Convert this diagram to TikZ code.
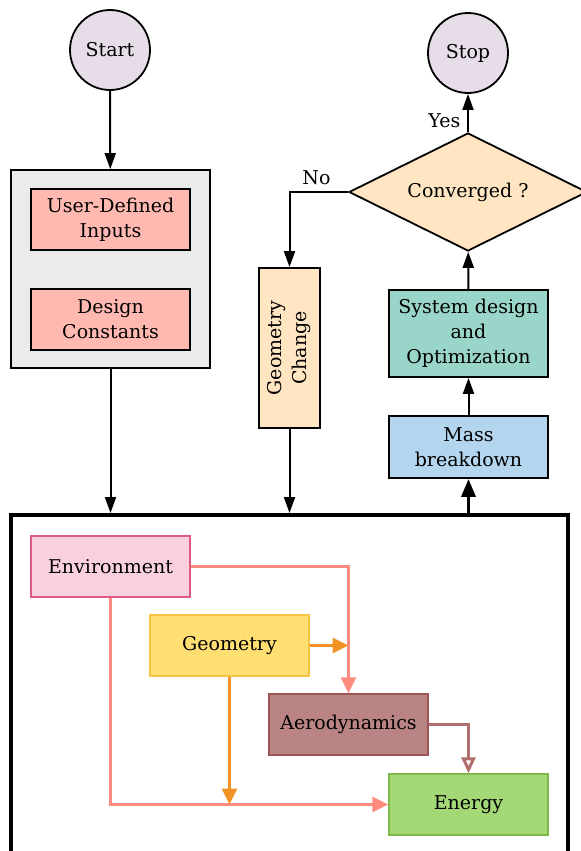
\documentclass[tikz,border=0pt]{standalone}
\usepackage{fontspec}
\setmainfont{DejaVu Serif}
\usetikzlibrary{shapes.geometric}
\usetikzlibrary{arrows.meta}
\usetikzlibrary{positioning}

\definecolor{lilac}{HTML}{E7DDE9}
\definecolor{panel}{HTML}{EBEBEB}
\definecolor{peach}{HTML}{FFB9B0}
\definecolor{cream}{HTML}{FFE5C2}
\definecolor{teal}{HTML}{9AD5CA}
\definecolor{sky}{HTML}{B3D5EE}
\definecolor{envfill}{HTML}{F9D1DD}
\definecolor{envline}{HTML}{DD5A85}
\definecolor{geofill}{HTML}{FFDF72}
\definecolor{geoline}{HTML}{F8C444}
\definecolor{aerofill}{HTML}{B98483}
\definecolor{aeroline}{HTML}{9E5558}
\definecolor{enfill}{HTML}{A4D877}
\definecolor{enline}{HTML}{7CB84A}
\definecolor{salmon}{HTML}{FF8C7F}
\definecolor{orange}{HTML}{F29325}
\definecolor{aerolink}{HTML}{B06E6E}

\tikzset{
  term/.style={circle, draw, fill=lilac, line width=0.9pt, minimum size=40pt, inner sep=0pt},
  block/.style={rectangle, draw, line width=0.9pt, align=center, minimum width=79.5pt, inner sep=1pt},
  module/.style={block, minimum height=30.5pt, line width=0.7pt},
  flow/.style={line width=1pt, -{Triangle[length=8pt,width=5.5pt]}},
  link/.style={line width=1.5pt, -{Triangle[length=8pt,width=7.5pt]}}
}

\begin{document}
\begin{tikzpicture}[x=0.5pt, y=-0.5pt, font=\fontsize{9.5}{12.5}\selectfont]
        \clip (0,0) rectangle (581,851);
        % left column
        \node [term] (start) at (110,50) {Start};
        \node [block, fill=panel, minimum width=99.5pt, minimum height=99pt] (inbox) at (110.5,269) {};
        \node [block, fill=peach, minimum height=30.5pt] (udi) at (110.5,219.5) {User-Defined\\Inputs};
        \node [block, fill=peach, minimum height=30.5pt] (dc) at (110.5,319.5) {Design\\Constants};
        % right column
        \node [term] (stop) at (468,53) {Stop};
        \node [diamond, aspect=2, draw, fill=cream, line width=0.9pt, minimum width=119pt, minimum height=59pt, inner sep=0pt] (conv) at (468,192) {Converged ?};
        \node [block, fill=cream, rotate=90, minimum width=80pt, minimum height=30.5pt] (gchange) at (289.5,348) {Geometry\\Change};
        \node [block, fill=teal, minimum height=43.5pt] (sysopt) at (468.5,333.5) {System design\\and\\Optimization};
        \node [block, fill=sky, minimum height=31pt] (mass) at (468.5,447) {Mass\\breakdown};
        % analysis core
        \node [draw, line width=2pt, minimum width=278.5pt, minimum height=192.5pt] (core) at (289.5,707.5) {};
        \node [module, fill=envfill, draw=envline] (env) at (110.5,566.5) {Environment};
        \node [module, fill=geofill, draw=geoline] (geom) at (229.5,645.5) {Geometry};
        \node [module, fill=aerofill, draw=aeroline] (aero) at (348.5,724.5) {Aerodynamics};
        \node [module, fill=enfill, draw=enline] (energy) at (468.5,804.5) {Energy};

        \draw [flow] (start) -- (inbox);
        \draw [flow] (inbox) -- (inbox |- core.north);
        \draw [flow] (conv) -- node[pos=0.3, left] {Yes} (stop);
        \draw [flow] (conv.west) -| node[pos=0.27, above] {No} (gchange.east);
        \draw [flow] (gchange.west) -- (gchange.west |- core.north);
        \draw [flow] (sysopt) -- (conv);
        \draw [flow] (mass) -- (sysopt);
        \draw [line width=1.7pt, -{Triangle[length=9pt,width=7pt]}] (mass |- core.north) -- (mass);

        \draw [link, salmon] (env.east) -| (aero.north);
        \draw [link, salmon] (env.south) |- (energy.west);
        \draw [link, orange] (geom.east) -- (geom.east -| aero.north);
        \draw [link, orange] (geom.south) -- (geom.south |- energy.west);
        \draw [link, aerolink, -{Triangle[open, length=8pt, width=7pt]}] (aero.east) -| (energy.north);
\end{tikzpicture}
\end{document}
